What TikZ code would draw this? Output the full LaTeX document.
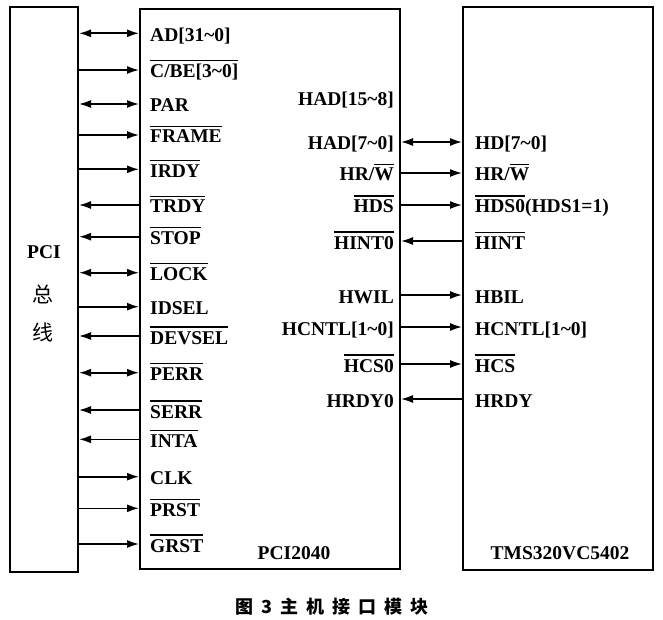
\documentclass[tikz,border=0pt]{standalone}
\usepackage{fontspec}
\setmainfont{Liberation Serif}
\newfontfamily\cjk{Noto Sans CJK SC}
\usetikzlibrary{arrows.meta}
\newcommand\ovl[1]{\setbox0\hbox{#1}\rlap{\rule[\dimexpr\ht0+3.5pt\relax]{\wd0}{1.1pt}}\box0}
\newcommand\tl{\textasciitilde}
\begin{document}
\begin{tikzpicture}[x=1pt,y=-1pt,
  box/.style={draw,line width=2pt,inner sep=0pt},
  lab/.style={inner sep=0pt,font=\bfseries\fontsize{19.5}{24}\selectfont},
  conn/.style={line width=1.6pt},
  tip/.tip={Latex[length=12pt,width=8pt]},
  bi/.style={conn,tip-tip},
  rt/.style={conn,-tip},
  lt/.style={conn,tip-}]
\useasboundingbox (0,0) rectangle (663,620);
\node[box,minimum width=68pt,minimum height=565pt] (bus) at (44,289.5) {};
\node[box,minimum width=260pt,minimum height=560pt] (pci) at (270,289.3) {};
\node[box,minimum width=190pt,minimum height=563pt] (tms) at (558,288.5) {};
% bus label
\node[lab] (pcit) at (44,252) {PCI};
\node[inner sep=0pt,font=\cjk\fontsize{21}{24}\selectfont] (zong) at (43,294) {总};
\node[inner sep=0pt,font=\cjk\fontsize{21}{24}\selectfont] (xian) at (43,332) {线};
% box titles
\node[lab,anchor=base] (pcin) at (294,559) {PCI2040};
\node[lab,anchor=base] (tmsn) at (560,559) {TMS320VC5402};
% left rows
\coordinate (L1) at (0,33.3);
\coordinate (L2) at (0,70);
\coordinate (L3) at (0,104);
\coordinate (L4) at (0,135);
\coordinate (L5) at (0,169.3);
\coordinate (L6) at (0,205);
\coordinate (L7) at (0,236.7);
\coordinate (L8) at (0,272.7);
\coordinate (L9) at (0,306.7);
\coordinate (L10) at (0,336);
\coordinate (L11) at (0,372.7);
\coordinate (L12) at (0,410);
\coordinate (L13) at (0,439.3);
\coordinate (L14) at (0,476.7);
\coordinate (L15) at (0,508.3);
\coordinate (L16) at (0,544);
\draw[bi] (bus.east |- L1) -- (pci.west |- L1);
\draw[rt] (bus.east |- L2) -- (pci.west |- L2);
\draw[bi] (bus.east |- L3) -- (pci.west |- L3);
\draw[rt] (bus.east |- L4) -- (pci.west |- L4);
\draw[rt] (bus.east |- L5) -- (pci.west |- L5);
\draw[lt] (bus.east |- L6) -- (pci.west |- L6);
\draw[lt] (bus.east |- L7) -- (pci.west |- L7);
\draw[bi] (bus.east |- L8) -- (pci.west |- L8);
\draw[rt] (bus.east |- L9) -- (pci.west |- L9);
\draw[lt] (bus.east |- L10) -- (pci.west |- L10);
\draw[bi] (bus.east |- L11) -- (pci.west |- L11);
\draw[lt] (bus.east |- L12) -- (pci.west |- L12);
\draw[lt] (bus.east |- L13) -- (pci.west |- L13);
\draw[rt] (bus.east |- L14) -- (pci.west |- L14);
\draw[rt] (bus.east |- L15) -- (pci.west |- L15);
\draw[rt] (bus.east |- L16) -- (pci.west |- L16);
\node[lab,anchor=base west] (l1) at (150,41.3) {AD[31\tl0]};
\node[lab,anchor=base west] (l2) at (150,78) {\ovl{C/BE[3\tl0]}};
\node[lab,anchor=base west] (l3) at (150,112) {PAR};
\node[lab,anchor=base west] (l4) at (150,143) {\ovl{FRAME}};
\node[lab,anchor=base west] (l5) at (150,177.3) {\ovl{IRDY}};
\node[lab,anchor=base west] (l6) at (150,213) {\ovl{TRDY}};
\node[lab,anchor=base west] (l7) at (150,244.7) {\ovl{STOP}};
\node[lab,anchor=base west] (l8) at (150,280.7) {\ovl{LOCK}};
\node[lab,anchor=base west] (l9) at (150,314.7) {IDSEL};
\node[lab,anchor=base west] (l10) at (150,344) {\ovl{DEVSEL}};
\node[lab,anchor=base west] (l11) at (150,380.7) {\ovl{PERR}};
\node[lab,anchor=base west] (l12) at (150,418) {\ovl{SERR}};
\node[lab,anchor=base west] (l13) at (150,447.3) {\ovl{INTA}};
\node[lab,anchor=base west] (l14) at (150,484.7) {CLK};
\node[lab,anchor=base west] (l15) at (150,516.3) {\ovl{PRST}};
\node[lab,anchor=base west] (l16) at (150,552) {\ovl{GRST}};
% right rows
\coordinate (R1) at (0,142);
\coordinate (R2) at (0,173);
\coordinate (R3) at (0,205);
\coordinate (R4) at (0,241);
\coordinate (R5) at (0,295);
\coordinate (R6) at (0,327);
\coordinate (R7) at (0,364);
\coordinate (R8) at (0,399);
\draw[bi] (pci.east |- R1) -- (tms.west |- R1);
\draw[rt] (pci.east |- R2) -- (tms.west |- R2);
\draw[rt] (pci.east |- R3) -- (tms.west |- R3);
\draw[lt] (pci.east |- R4) -- (tms.west |- R4);
\draw[rt] (pci.east |- R5) -- (tms.west |- R5);
\draw[rt] (pci.east |- R6) -- (tms.west |- R6);
\draw[rt] (pci.east |- R7) -- (tms.west |- R7);
\draw[lt] (pci.east |- R8) -- (tms.west |- R8);
\node[lab,anchor=base east] (p0) at (394,106) {HAD[15\tl8]};
\node[lab,anchor=base east] (p1) at (394,150) {HAD[7\tl0]};
\node[lab,anchor=base east] (p2) at (394,181) {HR/\ovl{W}};
\node[lab,anchor=base east] (p3) at (394,213) {\ovl{HDS}};
\node[lab,anchor=base east] (p4) at (394,249) {\ovl{HINT0}};
\node[lab,anchor=base east] (p5) at (394,303) {HWIL};
\node[lab,anchor=base east] (p6) at (394,335) {HCNTL[1\tl0]};
\node[lab,anchor=base east] (p7) at (394,372) {\ovl{HCS0}};
\node[lab,anchor=base east] (p8) at (394,407) {HRDY0};
\node[lab,anchor=base west] (t1) at (475,150) {HD[7\tl0]};
\node[lab,anchor=base west] (t2) at (475,181) {HR/\ovl{W}};
\node[lab,anchor=base west] (t3) at (475,213) {\ovl{HDS0}(HDS1=1)};
\node[lab,anchor=base west] (t4) at (475,249) {\ovl{HINT}};
\node[lab,anchor=base west] (t5) at (475,303) {HBIL};
\node[lab,anchor=base west] (t6) at (475,335) {HCNTL[1\tl0]};
\node[lab,anchor=base west] (t7) at (475,372) {\ovl{HCS}};
\node[lab,anchor=base west] (t8) at (475,407) {HRDY};
% caption
\node[inner sep=0pt,font=\cjk\bfseries\fontsize{18}{21}\selectfont] (cap) at (332,607)
  {图\hspace{8pt}3\hspace{8pt}主\hspace{8pt}机\hspace{8pt}接\hspace{8pt}口\hspace{8pt}模\hspace{8pt}块};
\end{tikzpicture}
\end{document}
